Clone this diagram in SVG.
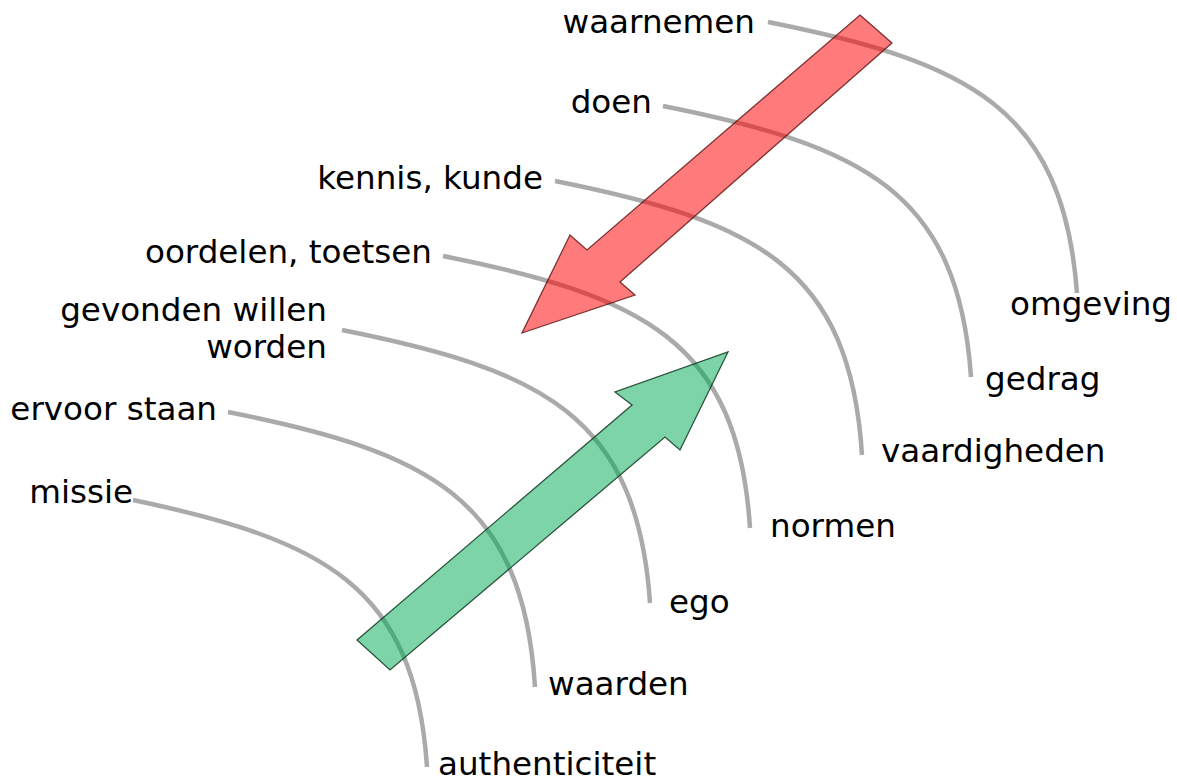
<svg xmlns="http://www.w3.org/2000/svg" width="1177" height="782" viewBox="0 0 1177 782">
<style>
text{font-family:"DejaVu Sans","Verdana",sans-serif;font-size:32.6px;fill:#000}
.l{text-anchor:end}
.curve{fill:none;stroke:#aaaaaa;stroke-width:4.5;stroke-linecap:butt}
.red{fill:#ff0000;fill-opacity:0.52;stroke:#5a1010;stroke-opacity:0.8;stroke-width:1.3;stroke-linejoin:miter}
.green{fill:#00aa55;fill-opacity:0.51;stroke:#0f3a22;stroke-opacity:0.85;stroke-width:1.3;stroke-linejoin:miter}
</style>
<rect width="1177" height="782" fill="#ffffff"/>
<g id="connectors">
<path class="curve" d="M768,22 c200,40 295,85 309,271"/>
<path class="curve" d="M663,106 c200,40 295,85 308,271"/>
<path class="curve" d="M555,181 c200,40 295,85 307,274"/>
<path class="curve" d="M443,256 c200,40 295,85 307,272"/>
<path class="curve" d="M342,330 c200,40 295,85 308,273"/>
<path class="curve" d="M228,412 c200,40 295,85 307,275"/>
<path class="curve" d="M133,500 c190,40 282,85 294,267"/>
</g>
<g id="node-waarnemen"><text class="l" x="755" y="33">waarnemen</text></g>
<g id="node-doen"><text class="l" x="652" y="113">doen</text></g>
<g id="node-kennis"><text class="l" x="543" y="189">kennis, kunde</text></g>
<g id="node-oordelen"><text class="l" x="432" y="263">oordelen, toetsen</text></g>
<g id="node-gevonden"><text class="l" x="327" y="321">gevonden willen</text><text class="l" x="327" y="358">worden</text></g>
<g id="node-ervoor"><text class="l" x="217" y="420">ervoor staan</text></g>
<g id="node-missie"><text class="l" x="133" y="503">missie</text></g>
<g id="node-omgeving"><text x="1010" y="315">omgeving</text></g>
<g id="node-gedrag"><text x="985" y="390">gedrag</text></g>
<g id="node-vaardigheden"><text x="881" y="462">vaardigheden</text></g>
<g id="node-normen"><text x="770" y="537">normen</text></g>
<g id="node-ego"><text x="669" y="613">ego</text></g>
<g id="node-waarden"><text x="548" y="695">waarden</text></g>
<g id="node-authenticiteit"><text x="438" y="775">authenticiteit</text></g>
<g id="arrow-red"><polygon class="red" points="860,15 892,43 620,282 635,295 522,333 570,235 587,250"/></g>
<g id="arrow-green"><polygon class="green" points="357,640 632,405 615,392 728,352 680,450 665,437 390,670"/></g>
</svg>
